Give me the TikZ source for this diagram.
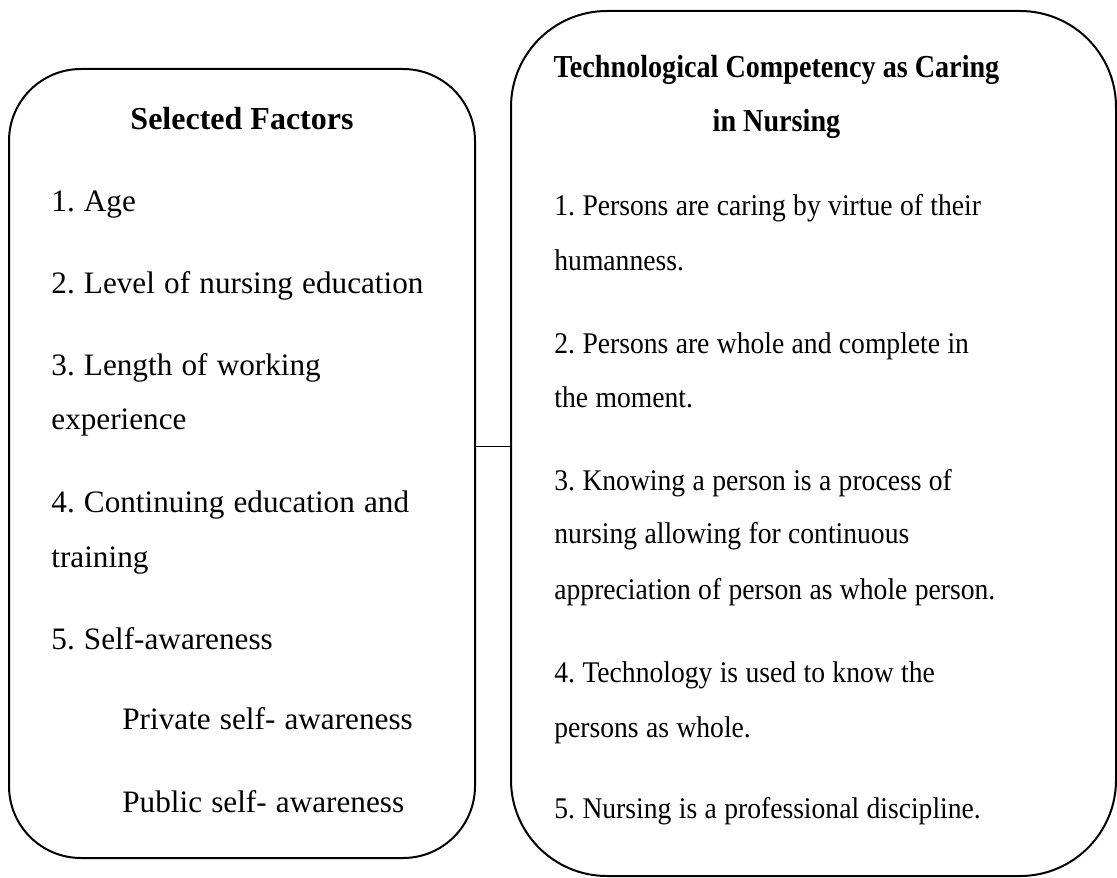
\documentclass[tikz,border=0pt]{standalone}
\usepackage{fontspec}
\setmainfont{Liberation Serif}
\newfontfamily\narrowserif[FakeStretch=0.92]{Liberation Serif}
\newfontfamily\narrowhead[FakeStretch=0.88]{Liberation Serif}
\usetikzlibrary{positioning, calc}
% text settings of the two panels
\newcommand\factorfont{\fontsize{15.6}{18}\selectfont\frenchspacing
  \setlength\spaceskip{4.6pt}}
\newcommand\caringfont{\narrowserif\fontsize{15}{18}\selectfont\frenchspacing
  \setlength\spaceskip{3.7pt}}
\tikzset{
  panel/.style={rectangle, draw=black, line width=1pt, inner sep=0pt},
  head/.style={font=\fontsize{16}{18}\selectfont\bfseries, inner sep=0pt,
    anchor=base},
  item/.style={font=\factorfont, inner sep=0pt, anchor=base west},
  rhead/.style={head, font=\narrowhead\fontsize{16}{18}\selectfont\bfseries},
  ritem/.style={item, font=\caringfont},
  link/.style={draw=black, line width=0.8pt},
}

\begin{document}
\begin{tikzpicture}[x=0.5pt, y=-0.5pt]
  \useasboundingbox (0,0) rectangle (1117,877);
  % the two panels and the line between them
  \node[panel, minimum width=233pt, minimum height=394.5pt,
        rounded corners=36pt] (fac) at (242,463.5) {};
  \node[panel, minimum width=302.5pt, minimum height=432.5pt,
        rounded corners=48pt] (tcc) at (813.5,443.5) {};
  \draw[link] ($(tcc.west -| fac.east)+(0,3)$) -- ($(tcc.west)+(0,3)$);
  % headings
  \node[head] (facttl) at (242,130) {Selected Factors};
  \node[rhead] (tccttl1) at (776.5,78) {Technological Competency as Caring};
  \node[rhead] (tccttl2) at (776.5,132) {in Nursing};
  % selected factors
  \foreach \x/\y/\txt [count=\i] in {
      51/212/{1. Age},
      51/293/{2. Level of nursing education},
      51/375/{3. Length of working},
      51/429/{experience},
      51/512/{4. Continuing education and},
      51/567/{training},
      51/649/{5. Self-awareness},
      122/729/{Private self- awareness},
      122/812/{Public self- awareness}}
    \node[item] (f\i) at (\x,\y) {\txt};
  % assumptions of the theory
  \foreach \y/\txt [count=\i] in {
      215/{1. Persons are caring by virtue of their},
      270/{humanness.},
      353/{2. Persons are whole and complete in},
      407/{the moment.},
      490/{3. Knowing a person is a process of},
      543/{nursing allowing for continuous},
      599/{appreciation of person as whole person.},
      682/{4. Technology is used to know the},
      737/{persons as whole.},
      818/{5. Nursing is a professional discipline.}}
    \node[ritem] (c\i) at (554,\y) {\txt};
\end{tikzpicture}
\end{document}
